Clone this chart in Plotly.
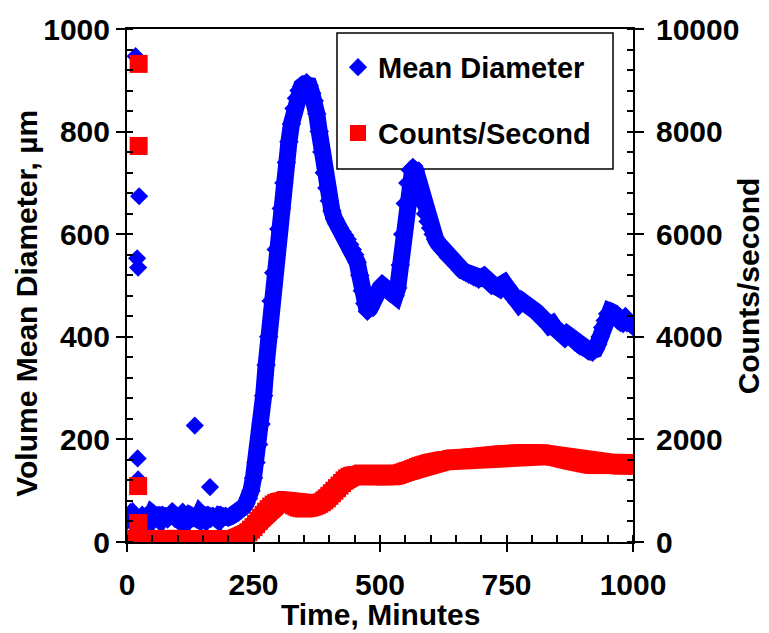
import plotly.graph_objects as go

# ---------------- data ----------------
time_min = list(range(0, 1001, 5))

mean_diameter = [
    42, 48, 40, 50, 45, 38, 52, 46, 50, 44,
    55, 47, 50, 43, 52, 48, 45, 50, 55, 46,
    48, 42, 58, 50, 45, 52, 47, 50, 44, 55,
    48, 45, 52, 46, 50, 48, 44, 52, 47, 50,
    48, 50, 52, 55, 58, 62, 68, 75, 85, 100,
    125, 155, 190, 230, 285, 345, 400, 470, 525, 570,
    610, 650, 700, 740, 780, 815, 845, 865, 880, 888,
    892, 895, 890, 875, 860, 835, 800, 760, 720, 690,
    665, 645, 630, 620, 612, 605, 598, 590, 580, 570,
    560, 545, 520, 490, 465, 450, 455, 470, 480, 490,
    495, 500, 495, 490, 485, 490, 480, 495, 540, 600,
    660, 700, 725, 730, 725, 705, 680, 660, 640, 625,
    612, 600, 590, 582, 575, 568, 562, 555, 552, 548,
    542, 538, 533, 528, 525, 522, 520, 517, 515, 512,
    515, 518, 510, 505, 500, 500, 498, 495, 502, 505,
    498, 490, 480, 474, 468, 465, 470, 468, 462, 458,
    455, 452, 448, 445, 440, 432, 428, 422, 425, 418,
    412, 408, 404, 400, 405, 400, 395, 390, 386, 382,
    380, 378, 376, 372, 370, 375, 385, 400, 418, 432,
    445, 450, 448, 440, 432, 428, 430, 435, 430, 425,
    420,
]

counts_per_second = [
    30, 35, 25, 30, 40, 30, 25, 35, 30, 30,
    35, 30, 25, 30, 35, 30, 30, 25, 35, 30,
    30, 35, 30, 25, 30, 35, 30, 30, 35, 30,
    25, 30, 35, 30, 30, 35, 30, 30, 35, 35,
    35, 40, 50, 60, 75, 95, 120, 150, 190, 240,
    290, 350, 410, 470, 530, 590, 640, 690, 730, 760,
    780, 790, 790, 785, 770, 745, 715, 690, 670, 660,
    655, 660, 670, 685, 700, 720, 745, 775, 810, 850,
    900, 950, 1000, 1050, 1100, 1150, 1200, 1240, 1270, 1290,
    1300, 1305, 1305, 1300, 1300, 1295, 1290, 1290, 1285, 1285,
    1285, 1285, 1280, 1285, 1290, 1290, 1295, 1310, 1330, 1350,
    1370, 1385, 1400, 1420, 1440, 1460, 1480, 1495, 1510, 1525,
    1540, 1550, 1560, 1570, 1580, 1590, 1595, 1600, 1605, 1610,
    1615, 1620, 1625, 1630, 1635, 1640, 1645, 1650, 1655, 1660,
    1665, 1670, 1675, 1680, 1685, 1690, 1695, 1700, 1705, 1710,
    1712, 1715, 1718, 1720, 1722, 1724, 1726, 1728, 1730, 1730,
    1730, 1728, 1725, 1720, 1715, 1708, 1700, 1690, 1680, 1670,
    1658, 1645, 1632, 1620, 1608, 1596, 1585, 1575, 1565, 1555,
    1545, 1535, 1525, 1515, 1508, 1502, 1500, 1500, 1502, 1505,
    1508, 1510, 1512, 1515, 1515, 1515, 1515, 1512, 1510, 1510,
    1510,
]

# isolated early readings
diam_outlier_time = [17, 24, 20, 22, 21, 22, 134, 164]
diam_outlier_value = [947, 674, 553, 535, 163, 122, 227, 107]
counts_outlier_time = [23, 23, 22, 22]
counts_outlier_value = [9320, 7720, 1090, 370]

x_ticks = [0, 250, 500, 750, 1000]
y_ticks = [0, 200, 400, 600, 800, 1000]
y2_ticks = [0, 2000, 4000, 6000, 8000, 10000]

BLUE = "#0000FF"
RED = "#FF0000"
FONT = "Liberation Sans"

fig = go.Figure()

fig.add_trace(go.Scatter(
    x=time_min, y=mean_diameter, mode="lines+markers",
    line=dict(color=BLUE, width=17),
    marker=dict(symbol="diamond", size=15, color=BLUE),
    legendgroup="d", showlegend=False, hoverinfo="skip",
))
fig.add_trace(go.Scatter(
    x=diam_outlier_time, y=diam_outlier_value, mode="markers",
    marker=dict(symbol="diamond", size=14, color=BLUE),
    name="Mean Diameter", legendgroup="d", showlegend=True,
))
fig.add_trace(go.Scatter(
    x=time_min, y=counts_per_second, mode="lines+markers", yaxis="y2",
    line=dict(color=RED, width=21),
    marker=dict(symbol="square", size=18, color=RED),
    legendgroup="c", showlegend=False,
))
fig.add_trace(go.Scatter(
    x=counts_outlier_time, y=counts_outlier_value, mode="markers", yaxis="y2",
    marker=dict(symbol="square", size=18, color=RED),
    name="Counts/Second", legendgroup="c", showlegend=True,
))

tickfont = dict(family=FONT, size=30, color="black", weight="bold")
titlefont = dict(family=FONT, size=30, color="black", weight="bold")

fig.update_layout(
    width=769, height=633,
    margin=dict(l=119, r=144, t=21, b=99, autoexpand=False),
    paper_bgcolor="white", plot_bgcolor="white",
    showlegend=True,
    legend=dict(
        x=0.417, y=0.975, xanchor="left", yanchor="top",
        bgcolor="rgba(0,0,0,0)", borderwidth=0,
        font=dict(family=FONT, size=29, color="black", weight="bold"),
        tracegroupgap=25, traceorder="grouped", itemsizing="trace",
    ),
    xaxis=dict(
        range=[0, 1000], tickvals=x_ticks, ticktext=[str(v) for v in x_ticks],
        showgrid=False, zeroline=False,
        showline=True, linecolor="black", linewidth=2, mirror=True,
        ticks="outside", ticklen=8, tickwidth=2, tickcolor="black",
        ticklabelstandoff=7,
        minor=dict(dtick=50, ticks="inside", ticklen=7, tickwidth=1.5, tickcolor="black"),
        tickfont=tickfont, automargin=False,
    ),
    xaxis2=dict(
        range=[0, 1000], tickvals=x_ticks, overlaying="x", anchor="y", side="bottom",
        showgrid=False, zeroline=False, showline=False, showticklabels=False,
        ticks="inside", ticklen=7, tickwidth=2, tickcolor="black",
    ),
    yaxis=dict(
        range=[0, 1000], tickvals=y_ticks, ticktext=[str(v) for v in y_ticks],
        showgrid=False, zeroline=False,
        showline=True, linecolor="black", linewidth=2,
        ticks="outside", ticklen=9, tickwidth=2, tickcolor="black",
        minor=dict(dtick=40, ticks="inside", ticklen=6, tickwidth=1.5, tickcolor="black"),
        tickfont=tickfont, automargin=False,
    ),
    yaxis2=dict(
        range=[0, 10000], tickvals=y2_ticks, ticktext=[str(v) for v in y2_ticks],
        overlaying="y", side="right", anchor="x",
        showgrid=False, zeroline=False,
        showline=True, linecolor="black", linewidth=2,
        ticks="outside", ticklen=9, tickwidth=2, tickcolor="black",
        ticklabelstandoff=6,
        minor=dict(dtick=400, ticks="inside", ticklen=6, tickwidth=1.5, tickcolor="black"),
        tickfont=tickfont, automargin=False,
    ),
    yaxis3=dict(
        range=[0, 10000], tickvals=y2_ticks, overlaying="y", side="right", anchor="x",
        showgrid=False, zeroline=False, showline=False, showticklabels=False,
        ticks="inside", ticklen=6, tickwidth=2, tickcolor="black",
    ),
    shapes=[dict(
        type="rect", xref="paper", yref="paper",
        x0=0.415, x1=0.9605, y0=0.727, y1=0.992,
        line=dict(color="black", width=1.5), fillcolor="rgba(0,0,0,0)",
        layer="below",
    )],
    annotations=[
        dict(text="Volume Mean Diameter, µm", xref="paper", yref="paper",
             x=-0.198, y=0.466, textangle=-90, showarrow=False,
             xanchor="center", yanchor="middle", font=titlefont),
        dict(text="Counts/second", xref="paper", yref="paper",
             x=1.229, y=0.5, textangle=-90, showarrow=False,
             xanchor="center", yanchor="middle", font=titlefont),
        dict(text="Time, Minutes", xref="paper", yref="paper",
             x=0.5, y=-0.141, showarrow=False,
             xanchor="center", yanchor="middle", font=titlefont),
    ],
)

fig.write_html("out.html")
